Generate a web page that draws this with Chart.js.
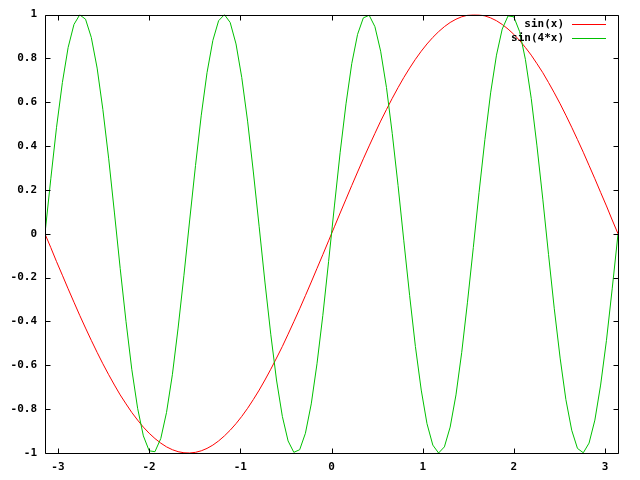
<!DOCTYPE html>
<html>
<head>
<meta charset="utf-8">
<script src="https://cdn.jsdelivr.net/npm/chart.js@4"></script>
<style>
  body { margin: 0; background: #fff; }
  canvas { display: block; }
</style>
</head>
<body>
<canvas id="plot" width="640" height="480"></canvas>
<script>
// values, 100 samples over [-pi, pi]
const xValues = [
  -3.142, -3.078, -3.015, -2.951, -2.888, -2.824, -2.761, -2.697, -2.634, -2.570,
  -2.507, -2.443, -2.380, -2.317, -2.253, -2.190, -2.126, -2.063, -1.999, -1.936,
  -1.872, -1.809, -1.745, -1.682, -1.618, -1.555, -1.491, -1.428, -1.365, -1.301,
  -1.238, -1.174, -1.111, -1.047, -0.984, -0.920, -0.857, -0.793, -0.730, -0.666,
  -0.603, -0.539, -0.476, -0.413, -0.349, -0.286, -0.222, -0.159, -0.095, -0.032,
  0.032, 0.095, 0.159, 0.222, 0.286, 0.349, 0.413, 0.476, 0.539, 0.603,
  0.666, 0.730, 0.793, 0.857, 0.920, 0.984, 1.047, 1.111, 1.174, 1.238,
  1.301, 1.365, 1.428, 1.491, 1.555, 1.618, 1.682, 1.745, 1.809, 1.872,
  1.936, 1.999, 2.063, 2.126, 2.190, 2.253, 2.317, 2.380, 2.443, 2.507,
  2.570, 2.634, 2.697, 2.761, 2.824, 2.888, 2.951, 3.015, 3.078, 3.142
];

const sinXValues = [
  0, -0.063, -0.127, -0.189, -0.251, -0.312, -0.372, -0.430, -0.486, -0.541,
  -0.593, -0.643, -0.690, -0.735, -0.776, -0.815, -0.850, -0.882, -0.910, -0.934,
  -0.955, -0.972, -0.985, -0.994, -0.999, -1.000, -0.997, -0.990, -0.979, -0.964,
  -0.945, -0.922, -0.896, -0.866, -0.833, -0.796, -0.756, -0.713, -0.667, -0.618,
  -0.567, -0.514, -0.458, -0.401, -0.342, -0.282, -0.220, -0.158, -0.095, -0.032,
  0.032, 0.095, 0.158, 0.220, 0.282, 0.342, 0.401, 0.458, 0.514, 0.567,
  0.618, 0.667, 0.713, 0.756, 0.796, 0.833, 0.866, 0.896, 0.922, 0.945,
  0.964, 0.979, 0.990, 0.997, 1.000, 0.999, 0.994, 0.985, 0.972, 0.955,
  0.934, 0.910, 0.882, 0.850, 0.815, 0.776, 0.735, 0.690, 0.643, 0.593,
  0.541, 0.486, 0.430, 0.372, 0.312, 0.251, 0.189, 0.127, 0.063, 0
];

const sin4XValues = [
  0, 0.251, 0.486, 0.690, 0.850, 0.955, 0.999, 0.979, 0.896, 0.756,
  0.567, 0.342, 0.095, -0.158, -0.401, -0.618, -0.796, -0.922, -0.990, -0.994,
  -0.934, -0.815, -0.643, -0.430, -0.189, 0.063, 0.312, 0.541, 0.735, 0.882,
  0.972, 1.000, 0.964, 0.866, 0.713, 0.514, 0.282, 0.032, -0.220, -0.458,
  -0.667, -0.833, -0.945, -0.997, -0.985, -0.910, -0.776, -0.593, -0.372, -0.127,
  0.127, 0.372, 0.593, 0.776, 0.910, 0.985, 0.997, 0.945, 0.833, 0.667,
  0.458, 0.220, -0.032, -0.282, -0.514, -0.713, -0.866, -0.964, -1.000, -0.972,
  -0.882, -0.735, -0.541, -0.312, -0.063, 0.189, 0.430, 0.643, 0.815, 0.934,
  0.994, 0.990, 0.922, 0.796, 0.618, 0.401, 0.158, -0.095, -0.342, -0.567,
  -0.756, -0.896, -0.979, -0.999, -0.955, -0.850, -0.690, -0.486, -0.251, 0
];

const seriesLabels = ["sin(x)", "sin(4*x)"];
const xTicks = [-3, -2, -1, 0, 1, 2, 3];
const yTicks = [-1, -0.8, -0.6, -0.4, -0.2, 0, 0.2, 0.4, 0.6, 0.8, 1];

const FONT = "bold 11px 'DejaVu Sans Mono'";

function points(ys){
    return xValues.map((x, i) => ({ x: x, y: ys[i] }));
}

// box, inward ticks on all four sides, and the key
const framePlugin = {
    id: "frame",
    afterDatasetsDraw(chart){
        const ctx = chart.ctx;
        const a = chart.chartArea;
        const xs = chart.scales.x;
        const ys = chart.scales.y;
        const L = Math.round(a.left) + 0.5;
        const R = Math.round(a.right) + 0.5;
        const T = Math.round(a.top) + 0.5;
        const B = Math.round(a.bottom) + 0.5;
        const tl = 5;

        ctx.save();
        ctx.strokeStyle = "#000";
        ctx.lineWidth = 1;
        ctx.beginPath();
        ctx.rect(L, T, R - L, B - T);
        xTicks.forEach(v => {
            const px = Math.round(xs.getPixelForValue(v)) + 0.5;
            ctx.moveTo(px, B); ctx.lineTo(px, B - tl);
            ctx.moveTo(px, T); ctx.lineTo(px, T + tl);
        });
        yTicks.forEach(v => {
            const py = Math.round(ys.getPixelForValue(v)) + 0.5;
            ctx.moveTo(L, py); ctx.lineTo(L + tl, py);
            ctx.moveTo(R, py); ctx.lineTo(R - tl, py);
        });
        ctx.stroke();

        // key
        ctx.font = FONT;
        ctx.textAlign = "right";
        ctx.textBaseline = "middle";
        chart.data.datasets.forEach((ds, i) => {
            const y = 24 + i * 14;
            ctx.fillStyle = "#000";
            ctx.fillText(ds.label, 564, y);
            ctx.strokeStyle = ds.borderColor;
            ctx.beginPath();
            ctx.moveTo(572, y + 0.5);
            ctx.lineTo(606, y + 0.5);
            ctx.stroke();
        });
        ctx.restore();
    }
};

new Chart(
    document.getElementById("plot"),
    {
        type: "line",
        data: {
            datasets: [
                {
                    label: seriesLabels[0],
                    data: points(sinXValues),
                    borderColor: "#ff0000",
                    borderWidth: 1,
                    pointRadius: 0,
                    fill: false,
                    tension: 0,
                    order: 1
                },
                {
                    label: seriesLabels[1],
                    data: points(sin4XValues),
                    borderColor: "#00c000",
                    borderWidth: 1,
                    pointRadius: 0,
                    fill: false,
                    tension: 0,
                    order: 0
                }
            ]
        },
        options: {
            responsive: false,
            animation: false,
            devicePixelRatio: 1,
            layout: { padding: { top: 14, right: 22, left: 0, bottom: 0 } },
            plugins: {
                legend: { display: false },
                tooltip: { enabled: false }
            },
            scales: {
                x: {
                    type: "linear",
                    min: -Math.PI,
                    max: Math.PI,
                    grid: { display: false, drawTicks: false },
                    border: { display: false },
                    afterBuildTicks: s => { s.ticks = xTicks.map(v => ({ value: v })); },
                    afterFit: s => { s.height = 27; },
                    ticks: {
                        color: "#000",
                        padding: 8,
                        maxRotation: 0,
                        autoSkip: false,
                        font: { family: "DejaVu Sans Mono", size: 11, weight: "bold" },
                        callback: v => String(v)
                    }
                },
                y: {
                    type: "linear",
                    min: -1,
                    max: 1,
                    grid: { display: false, drawTicks: false },
                    border: { display: false },
                    afterBuildTicks: s => { s.ticks = yTicks.map(v => ({ value: v })); },
                    afterFit: s => { s.width = 45; },
                    ticks: {
                        color: "#000",
                        padding: 8,
                        autoSkip: false,
                        font: { family: "DejaVu Sans Mono", size: 11, weight: "bold" },
                        callback: v => String(v)
                    }
                }
            }
        },
        plugins: [framePlugin]
    }
);
</script>
</body>
</html>
